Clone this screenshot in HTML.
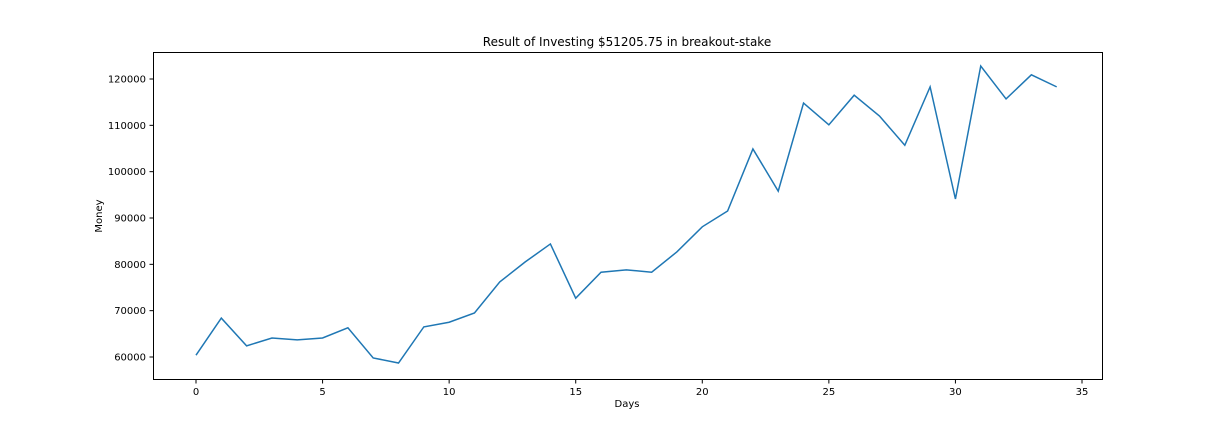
<!DOCTYPE html>
<html><head><meta charset="utf-8"><style>
html,body{margin:0;padding:0;background:#fff;}
svg{display:block;font-family:"DejaVu Sans","Liberation Sans",sans-serif;}
</style></head><body>
<svg id="chart" width="1224" height="432">
<rect x="0" y="0" width="1224" height="432" fill="#fff"/>
<text x="627" y="46" text-anchor="middle" font-size="12">Result of Investing $51205.75 in breakout-stake</text>
<g id="axes"></g>
<path id="series" fill="none" stroke="#1f77b4" stroke-width="1.5"/>
<rect x="153.5" y="52.5" width="949" height="327" fill="none" stroke="#000" stroke-width="1"/>
<text x="627" y="407" text-anchor="middle" font-size="10">Days</text>
<text x="102" y="216" text-anchor="middle" font-size="10" transform="rotate(-90 102 216)">Money</text>
</svg>
<script>
const values = [60400,68400,62400,64100,63700,64100,66300,59800,58700,66500,67500,69500,76200,80500,84400,72700,78300,78800,78300,82700,88100,91500,104900,95800,114800,110100,116500,112000,105700,118300,94100,122800,115700,120900,118300];
const xTicks = [0,5,10,15,20,25,30,35];
const yTicks = [60000,70000,80000,90000,100000,110000,120000];

const xScale = d => 196 + d * (1082 - 196) / 35;
const yScale = v => 357 - (v - 60000) * (357 - 79) / 60000;
const ns = "http://www.w3.org/2000/svg";
const axes = document.getElementById('axes');

xTicks.forEach(t => {
  const x = xScale(t);
  const l = document.createElementNS(ns, 'line');
  l.setAttribute('x1', x); l.setAttribute('x2', x);
  l.setAttribute('y1', 379.5); l.setAttribute('y2', 383.5);
  l.setAttribute('stroke', '#000');
  
  
  axes.appendChild(l);
  const tx = document.createElementNS(ns, 'text');
  tx.setAttribute('x', x); tx.setAttribute('y', 395);
  tx.setAttribute('text-anchor', 'middle'); tx.setAttribute('font-size', '10');
  tx.textContent = t;
  
  
  axes.appendChild(tx);
});
yTicks.forEach(t => {
  const y = yScale(t);
  const l = document.createElementNS(ns, 'line');
  l.setAttribute('x1', 149.5); l.setAttribute('x2', 153.5);
  l.setAttribute('y1', y); l.setAttribute('y2', y);
  l.setAttribute('stroke', '#000');
  
  
  axes.appendChild(l);
  const tx = document.createElementNS(ns, 'text');
  tx.setAttribute('x', 146); tx.setAttribute('y', y + 3.5);
  tx.setAttribute('text-anchor', 'end'); tx.setAttribute('font-size', '10');
  tx.textContent = t;
  
  
  axes.appendChild(tx);
});
document.getElementById('series').setAttribute('d',
  values.map((v, i) => (i ? 'L' : 'M') + xScale(i).toFixed(2) + ',' + yScale(v).toFixed(2)).join(' '));
</script>
</body></html>
